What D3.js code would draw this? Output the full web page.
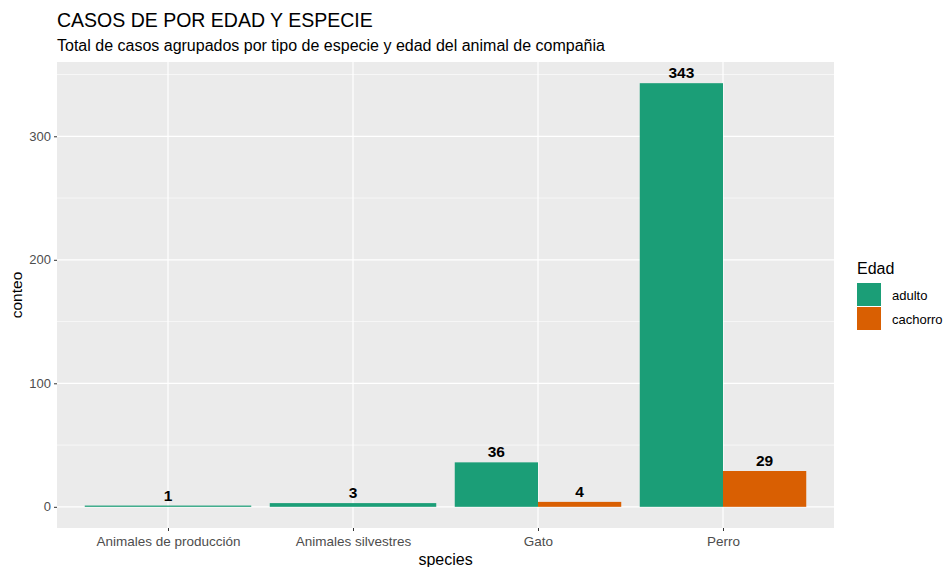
<!DOCTYPE html>
<html><head><meta charset="utf-8">
<script src="https://cdn.jsdelivr.net/npm/d3@7"></script>
<style>body{margin:0;background:#fff;} text{font-family:"Liberation Sans",Arial,sans-serif;}</style>
</head><body>
<svg id="c" width="943" height="567"></svg>
<script>
const species = ["Animales de producción","Animales silvestres","Gato","Perro"];
const edades = ["adulto","cachorro"];
const adulto = [1,3,36,343];
const cachorro = [null,null,4,29];
const yTicks = [0,100,200,300];
const yMinor = [50,150,250,350];
const colors = ["#1B9E77","#D95F02"];

const svg = d3.select("#c");
const L=57, R=834, T=62, B=528;
const ymax = 343*1.05, ymin = -343*0.05;
const y = d3.scaleLinear().domain([ymin,ymax]).range([B,T]);
const xc = d3.scaleLinear().domain([0.4,4.6]).range([L,R]);

svg.append("rect").attr("x",L).attr("y",T).attr("width",R-L).attr("height",B-T).attr("fill","#EBEBEB");
const g = svg.append("g");
yMinor.forEach(v=>g.append("line").attr("x1",L).attr("x2",R).attr("y1",y(v)).attr("y2",y(v)).attr("stroke","#fff").attr("stroke-width",0.6));
yTicks.forEach(v=>g.append("line").attr("x1",L).attr("x2",R).attr("y1",y(v)).attr("y2",y(v)).attr("stroke","#fff").attr("stroke-width",1.2));
species.forEach((s,i)=>g.append("line").attr("x1",xc(i+1)).attr("x2",xc(i+1)).attr("y1",T).attr("y2",B).attr("stroke","#fff").attr("stroke-width",1.2));

const bars = [];
species.forEach((s,i)=>{
  const vals = [adulto[i],cachorro[i]];
  const present = vals.map((v,k)=>({v,k})).filter(d=>d.v!==null);
  const w = 0.9/present.length;
  present.forEach((d,j)=>{
    const x0 = (i+1) - 0.45 + j*w;
    bars.push({x0, x1:x0+w, v:d.v, k:d.k});
  });
});
svg.selectAll("rect.bar").data(bars).enter().append("rect").attr("class","bar")
  .attr("x",d=>xc(d.x0)).attr("width",d=>xc(d.x1)-xc(d.x0))
  .attr("y",d=>y(d.v)).attr("height",d=>y(0)-y(d.v))
  .attr("fill",d=>colors[d.k]);
svg.selectAll("text.lbl").data(bars).enter().append("text").attr("class","lbl")
  .attr("x",d=>(xc(d.x0)+xc(d.x1))/2).attr("y",d=>y(d.v)-5)
  .attr("text-anchor","middle").attr("font-weight","bold").attr("font-size","15.5px").attr("fill","#000")
  .text(d=>d.v);

const ya = svg.append("g").attr("transform",`translate(${L},0)`)
  .call(d3.axisLeft(y).tickValues(yTicks).tickSize(3).tickPadding(3));
ya.select(".domain").remove();
ya.selectAll("line").attr("stroke","#333");
ya.selectAll("text").attr("fill","#4D4D4D").attr("font-size","13px").style("font-family","Liberation Sans, Arial, sans-serif");

const xa = svg.append("g").attr("transform",`translate(0,${B})`)
  .call(d3.axisBottom(xc).tickValues([1,2,3,4]).tickFormat(d=>species[d-1]).tickSize(3).tickPadding(5));
xa.select(".domain").remove();
xa.selectAll("line").attr("stroke","#333");
xa.selectAll("text").attr("fill","#4D4D4D").attr("font-size","13.5px").style("font-family","Liberation Sans, Arial, sans-serif");

svg.append("text").attr("x",(L+R)/2).attr("y",565).attr("text-anchor","middle").attr("font-size","16px").attr("fill","#000").text("species");
svg.append("text").attr("transform",`translate(22,${(T+B)/2}) rotate(-90)`).attr("text-anchor","middle").attr("font-size","15.5px").attr("fill","#000").text("conteo");

svg.append("text").attr("x",L).attr("y",27).attr("font-size","19.5px").attr("fill","#000").text("CASOS DE POR EDAD Y ESPECIE");
svg.append("text").attr("x",L).attr("y",51).attr("font-size","16px").attr("fill","#000").text("Total de casos agrupados por tipo de especie y edad del animal de compañia");

const lg = svg.append("g");
lg.append("text").attr("x",857).attr("y",274).attr("font-size","16px").attr("fill","#000").text("Edad");
edades.forEach((e,i)=>{
  lg.append("rect").attr("x",857).attr("y",283+i*24).attr("width",24).attr("height",23).attr("fill",colors[i]);
  lg.append("text").attr("x",892).attr("y",300+i*24).attr("font-size","13px").attr("fill","#000").text(e);
});
</script>
</body></html>
